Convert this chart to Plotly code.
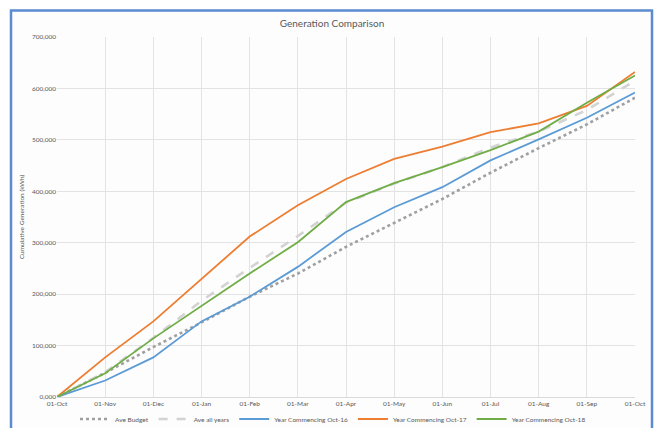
import plotly.graph_objects as go

months = ["01-Oct", "01-Nov", "01-Dec", "01-Jan", "01-Feb", "01-Mar", "01-Apr",
          "01-May", "01-Jun", "01-Jul", "01-Aug", "01-Sep", "01-Oct"]

ave_budget = [0, 47000, 97000, 145000, 195000, 240000, 292000, 339000, 385000, 436000, 484000, 530000, 582000]
ave_all_years = [0, 48000, 115000, 187000, 251000, 313000, 378000, 415000, 447000, 485000, 516000, 558000, 615000]
oct16 = [0, 32000, 77000, 147000, 195000, 253000, 321000, 369000, 408000, 460000, 501000, 543000, 592000]
oct17 = [0, 77000, 147000, 229000, 312000, 373000, 424000, 463000, 487000, 515000, 532000, 566000, 632000]
oct18 = [0, 46000, 114000, 177000, 240000, 301000, 379000, 416000, 447000, 480000, 516000, 572000, 625000]

y_tick_values = [0, 100000, 200000, 300000, 400000, 500000, 600000, 700000]
y_tick_labels = ["0,000", "100,000", "200,000", "300,000", "400,000", "500,000", "600,000", "700,000"]

x_idx = list(range(len(months)))

series = [
    ("Ave Budget", ave_budget, "#A0A0A0", "dot", 2.6),
    ("Ave all years", ave_all_years, "#D3D3D3", "dash", 2.6),
    ("Year Commencing Oct-16", oct16, "#5B9BD5", "solid", 1.8),
    ("Year Commencing Oct-17", oct17, "#ED7D31", "solid", 1.8),
    ("Year Commencing Oct-18", oct18, "#70AD47", "solid", 1.8),
]

fig = go.Figure()
for name, vals, color, dash, w in series:
    fig.add_trace(go.Scatter(
        x=x_idx, y=vals, name=name, mode="lines",
        line=dict(color=color, dash=dash, width=w),
        hoverinfo="skip",
    ))

W, H = 665, 428
L, R, T, B = 57, 30, 37, 31
pw, ph = W - L - R, H - T - B

def px_to_paper_x(px):
    return (px - L) / pw

def px_to_paper_y(py):
    return (H - B - py) / ph

FONT = "Lato, Open Sans, sans-serif"

fig.update_layout(
    width=W, height=H,
    margin=dict(l=L, r=R, t=T, b=B, autoexpand=False),
    paper_bgcolor="white",
    plot_bgcolor="rgba(0,0,0,0)",
    font=dict(family=FONT, color="#595959", size=6.5),
    title=dict(text="Generation Comparison", x=px_to_paper_x(332), xref="paper", xanchor="center",
               y=1 - 23 / H, yanchor="middle", yref="container",
               font=dict(size=10, color="#595959", family=FONT)),
    showlegend=True,
    legend=dict(orientation="h", x=px_to_paper_x(333), xanchor="center",
                y=px_to_paper_y(419), yanchor="middle",
                font=dict(size=6.5, color="#595959", family=FONT), itemwidth=30,
                bgcolor="rgba(0,0,0,0)", tracegroupgap=0),
    xaxis=dict(range=[0, len(months) - 1], tickvals=x_idx, ticktext=months,
               showgrid=True, gridcolor="#E3E3E3", gridwidth=1, automargin=False,
               zeroline=False, showline=True, linecolor="#D9D9D9",
               ticks="", tickfont=dict(size=6.5, color="#595959", family=FONT), fixedrange=True),
    yaxis=dict(range=[0, 700000], tickvals=y_tick_values, ticktext=y_tick_labels,
               showgrid=True, gridcolor="#E3E3E3", gridwidth=1, automargin=False,
               zeroline=False, showline=False, ticks="",
               tickfont=dict(size=6.5, color="#595959", family=FONT),
               title=dict(text="Cumulative Generation (kWh)", standoff=6,
                          font=dict(size=6.5, color="#595959", family=FONT)), fixedrange=True),
    shapes=[dict(type="rect", xref="paper", yref="paper",
                 x0=px_to_paper_x(11), x1=px_to_paper_x(652),
                 y0=px_to_paper_y(445), y1=px_to_paper_y(10.5),
                 line=dict(color="#5B8BD0", width=2.5), fillcolor="#FDFDFD",
                 layer="below")],
)

fig.write_html("out.html", config={"displayModeBar": False},
               post_script="document.body.style.margin='0';document.body.style.overflow='hidden';")
